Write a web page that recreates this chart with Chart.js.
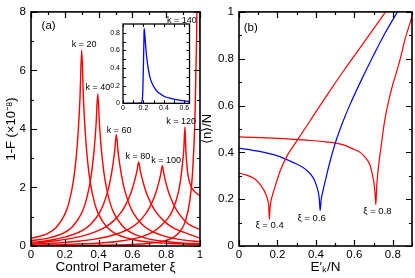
<!DOCTYPE html>
<html><head><meta charset="utf-8">
<script src="https://cdn.jsdelivr.net/npm/chart.js@4.4.1/dist/chart.umd.min.js"></script>
<style>
html,body{margin:0;padding:0;background:#fff;}
#wrap{position:relative;width:415px;height:278px;overflow:hidden;background:#fff;}
canvas{position:absolute;left:0;top:0;}
</style></head><body>
<div id="wrap">
<canvas id="cA" width="415" height="278"></canvas>
<canvas id="cB" width="415" height="278"></canvas>
<canvas id="cI" width="415" height="278"></canvas>
</div>
<script>
// ---------- Panel (a): 1-F (x10^-8) vs control parameter xi ----------
const x20 = [0, 0.1, 0.15, 0.2, 0.225, 0.25, 0.265, 0.28, 0.29, 0.30, 0.31, 0.32, 0.335, 0.35, 0.375, 0.4, 0.45, 0.5, 0.6, 0.7, 0.8, 0.9, 1.0];
const y20 = [0.26, 0.43, 0.64, 1.08, 1.49, 2.20, 2.89, 3.97, 5.07, 6.70, 5.07, 3.97, 2.89, 2.20, 1.49, 1.08, 0.64, 0.42, 0.223, 0.138, 0.094, 0.068, 0.051];
const x40 = [0, 0.095, 0.195, 0.245, 0.295, 0.32, 0.345, 0.36, 0.375, 0.385, 0.395, 0.405, 0.415, 0.43, 0.445, 0.47, 0.495, 0.545, 0.595, 0.695, 0.795, 0.895, 1.0];
const y40 = [0.18, 0.26, 0.447, 0.66, 1.07, 1.43, 2.03, 2.57, 3.38, 4.15, 5.2, 4.15, 3.38, 2.57, 2.03, 1.43, 1.07, 0.66, 0.447, 0.244, 0.153, 0.105, 0.076];
const x60 = [0, 0.105, 0.205, 0.305, 0.355, 0.405, 0.43, 0.455, 0.47, 0.485, 0.495, 0.505, 0.515, 0.525, 0.54, 0.555, 0.58, 0.605, 0.655, 0.705, 0.805, 0.905, 1.0];
const y60 = [0.12, 0.19, 0.31, 0.534, 0.75, 1.13, 1.44, 1.89, 2.28, 2.79, 3.24, 3.8, 3.24, 2.79, 2.28, 1.89, 1.44, 1.13, 0.75, 0.534, 0.31, 0.202, 0.145];
const x80 = [0, 0.137, 0.237, 0.337, 0.437, 0.487, 0.537, 0.562, 0.587, 0.602, 0.617, 0.627, 0.637, 0.647, 0.657, 0.672, 0.687, 0.712, 0.737, 0.787, 0.837, 0.937, 1.0];
const y80 = [0.09, 0.17, 0.26, 0.40, 0.64, 0.85, 1.18, 1.43, 1.75, 2.01, 2.32, 2.57, 2.87, 2.57, 2.32, 2.01, 1.75, 1.43, 1.18, 0.85, 0.64, 0.40, 0.27];
const x100 = [0, 0.177, 0.277, 0.377, 0.477, 0.577, 0.627, 0.677, 0.702, 0.727, 0.742, 0.757, 0.767, 0.777, 0.787, 0.797, 0.812, 0.827, 0.852, 0.877, 0.927, 0.977, 1.0];
const y100 = [0.06, 0.11, 0.16, 0.235, 0.36, 0.58, 0.77, 1.09, 1.32, 1.64, 1.88, 2.19, 2.44, 2.74, 2.44, 2.19, 1.88, 1.64, 1.32, 1.09, 0.77, 0.62, 0.56];
const x120 = [0, 0.211, 0.411, 0.511, 0.611, 0.711, 0.761, 0.811, 0.836, 0.861, 0.876, 0.886, 0.896, 0.904, 0.911, 0.916, 0.921, 0.931, 0.946, 0.961, 0.98, 1.0];
const y120 = [0.03, 0.055, 0.105, 0.155, 0.25, 0.45, 0.65, 0.95, 1.2, 1.6, 1.95, 2.3, 2.8, 3.3, 4.07, 3.3, 2.85, 2.35, 2.05, 1.9, 1.8, 1.72];
const x140 = [0, 0.49, 0.69, 0.79, 0.84, 0.89, 0.915, 0.94, 0.955, 0.97, 0.98, 0.985, 0.99, 1.0];
const y140 = [0.009, 0.032, 0.083, 0.173, 0.286, 0.56, 0.875, 1.56, 2.43, 4.32, 7.14, 9.7, 14, 7.14];

// inset of panel (a)
const insetX = [0, 0.1, 0.17, 0.18, 0.19, 0.195, 0.2, 0.205, 0.207, 0.215, 0.225, 0.234, 0.25, 0.267, 0.3, 0.33, 0.367, 0.4, 0.467, 0.55, 0.65];
const insetY = [0, 0, 0.002, 0.01, 0.05, 0.2, 0.45, 0.75, 0.85, 0.75, 0.6, 0.5, 0.37, 0.28, 0.19, 0.14, 0.105, 0.08, 0.055, 0.035, 0.02];

// ---------- Panel (b): <n>/N vs E'_k/N ----------
const bx04 = [0, 0.04, 0.075, 0.1, 0.127, 0.14, 0.15, 0.155, 0.158, 0.161, 0.165, 0.175, 0.19, 0.214, 0.25, 0.30, 0.37, 0.45, 0.55, 0.65, 0.762];
const by04 = [0.311, 0.303, 0.29, 0.273, 0.242, 0.22, 0.195, 0.168, 0.114, 0.155, 0.185, 0.22, 0.26, 0.32, 0.385, 0.448, 0.535, 0.635, 0.755, 0.87, 1.0];
const bx06 = [0, 0.1, 0.2, 0.26, 0.3, 0.35, 0.387, 0.40, 0.413, 0.418, 0.422, 0.428, 0.438, 0.455, 0.473, 0.49, 0.509, 0.54, 0.578, 0.64, 0.70, 0.76, 0.824];
const by06 = [0.418, 0.405, 0.385, 0.365, 0.35, 0.325, 0.29, 0.265, 0.228, 0.20, 0.152, 0.20, 0.24, 0.30, 0.36, 0.41, 0.46, 0.53, 0.605, 0.715, 0.815, 0.91, 1.0];
const bx08 = [0, 0.2, 0.35, 0.45, 0.543, 0.6, 0.63, 0.66, 0.682, 0.695, 0.703, 0.708, 0.712, 0.716, 0.722, 0.73, 0.74, 0.748, 0.76, 0.78, 0.80, 0.821, 0.845, 0.864, 0.885, 0.907];
const by08 = [0.466, 0.46, 0.452, 0.445, 0.432, 0.412, 0.40, 0.375, 0.345, 0.30, 0.263, 0.22, 0.177, 0.25, 0.31, 0.37, 0.43, 0.48, 0.545, 0.625, 0.69, 0.747, 0.82, 0.885, 0.94, 1.0];

// tick labels
const ticksAX = [0, 0.2, 0.4, 0.6, 0.8, 1];
const ticksAY = [0, 2, 4, 6, 8];
const ticksBX = [0, 0.2, 0.4, 0.6, 0.8];
const ticksBY = [0, 0.2, 0.4, 0.6, 0.8, 1];
const ticksIX = [0, 0.2, 0.4, 0.6];
const ticksIY = [0, 0.2, 0.4, 0.6, 0.8];

// annotation texts
const notesA = [
  {t: 'k = 20', x: 0.314, y: 6.87},
  {t: 'k = 40', x: 0.396, y: 5.43},
  {t: 'k = 60', x: 0.521, y: 3.93},
  {t: 'k = 80', x: 0.633, y: 3.07},
  {t: 'k = 100', x: 0.799, y: 2.91},
  {t: 'k = 120', x: 0.888, y: 4.24},
  {t: 'k = 140', x: 0.893, y: 7.72}
];
const notesB = [
  {t: 'ξ = 0.4', x: 0.159, y: 0.09},
  {t: 'ξ = 0.6', x: 0.378, y: 0.119},
  {t: 'ξ = 0.8', x: 0.72, y: 0.148}
];

const RED = '#ff0000', BLUE = '#0000ff';
Chart.defaults.font.family = "'Liberation Sans', Arial, Helvetica, sans-serif";
Chart.defaults.color = '#000';

const pts = (xs, ys) => xs.map((v, i) => ({x: v, y: ys[i]}));
const ds = (xs, ys, c, w) => ({data: pts(xs, ys), borderColor: c, borderWidth: w, pointRadius: 0,
  fill: false, cubicInterpolationMode: 'monotone'});
const range = (a, b, s) => { const r = []; for (let v = a; v <= b + 1e-9; v += s) r.push(+v.toFixed(4)); return r; };

const framePlugin = {
  id: 'frame',
  afterDatasetsDraw(chart, args, o) {
    const {ctx, chartArea: a} = chart;
    const sx = chart.scales.x, sy = chart.scales.y;
    ctx.save();
    ctx.strokeStyle = '#000';
    ctx.lineWidth = o.tw;
    ctx.beginPath();
    const xt = (vals, len) => vals.forEach(v => {
      const p = Math.round(sx.getPixelForValue(v)) + 0.5;
      ctx.moveTo(p, a.bottom); ctx.lineTo(p, a.bottom - len);
      ctx.moveTo(p, a.top); ctx.lineTo(p, a.top + len);
    });
    const yt = (vals, len) => vals.forEach(v => {
      const p = Math.round(sy.getPixelForValue(v)) + 0.5;
      ctx.moveTo(a.left, p); ctx.lineTo(a.left + len, p);
      ctx.moveTo(a.right, p); ctx.lineTo(a.right - len, p);
    });
    xt(o.xMaj, o.maj); xt(o.xMin, o.min);
    yt(o.yMaj, o.maj); yt(o.yMin, o.min);
    ctx.stroke();
    ctx.lineWidth = o.fw;
    ctx.strokeRect(a.left, a.top, a.right - a.left, a.bottom - a.top);
    ctx.restore();
  }
};
const notesPlugin = {
  id: 'notes',
  afterDatasetsDraw(chart, args, o) {
    const {ctx} = chart;
    const sx = chart.scales.x, sy = chart.scales.y;
    ctx.save();
    ctx.fillStyle = '#000';
    ctx.textAlign = 'center';
    ctx.textBaseline = 'middle';
    (o.items || []).forEach(it => {
      ctx.font = (it.s || o.size) + "px 'Liberation Sans', Arial, sans-serif";
      ctx.fillText(it.t, sx.getPixelForValue(it.x), sy.getPixelForValue(it.y));
    });
    ctx.restore();
  }
};

function axis(min, max, tv, fit, fontSize, pad, title, titleFont, titlePad) {
  return {
    type: 'linear', min, max,
    grid: {display: false, drawTicks: false},
    border: {display: false},
    afterBuildTicks: s => { s.ticks = tv.map(v => ({value: v})); },
    afterFit: s => { if (s.isHorizontal()) s.height = fit; else s.width = fit; },
    ticks: {autoSkip: false, maxRotation: 0, padding: pad, font: {size: fontSize}, color: '#000',
      callback: v => String(v)},
    title: {display: !!title, text: title, color: '#000', font: {size: titleFont}, padding: titlePad}
  };
}

const common = {
  responsive: false, animation: false, devicePixelRatio: 1,
  events: [],
  plugins: {legend: {display: false}, tooltip: {enabled: false}},
};

// Panel (a)
new Chart(document.getElementById('cA'), {
  type: 'line',
  data: {datasets: [
    ds(x20, y20, RED, 1.4), ds(x40, y40, RED, 1.4), ds(x60, y60, RED, 1.4), ds(x80, y80, RED, 1.4),
    ds(x100, y100, RED, 1.4), ds(x120, y120, RED, 1.4), ds(x140, y140, RED, 1.4)
  ]},
  options: Object.assign({}, common, {
    layout: {padding: {left: 0, top: 5, right: 215, bottom: 0}},
    scales: {
      x: axis(0, 1, ticksAX, 32, 11.5, 2, 'Control Parameter ξ', 13.5, {top: 0, bottom: 3}),
      y: axis(0, 8, ticksAY, 31, 11.5, 5, '1-F (×10⁻⁸)', 13, {top: 4, bottom: 0})
    },
    plugins: Object.assign({}, common.plugins, {
      frame: {xMaj: ticksAX, xMin: range(0.1, 0.9, 0.2), yMaj: ticksAY, yMin: [1, 3, 5, 7], maj: 6, min: 3, tw: 1.2, fw: 1.6},
      notes: {size: 9, items: notesA.concat([{t: '(a)', x: 0.104, y: 7.52, s: 11.5}])}
    })
  }),
  plugins: [framePlugin, notesPlugin]
});

// Panel (b)
new Chart(document.getElementById('cB'), {
  type: 'line',
  data: {datasets: [ds(bx04, by04, RED, 1.2), ds(bx06, by06, BLUE, 1.2), ds(bx08, by08, RED, 1.2)]},
  options: Object.assign({}, common, {
    layout: {padding: {left: 200, top: 5, right: 3, bottom: 0}},
    scales: {
      x: axis(0, 0.9, ticksBX, 32, 11.5, 2, 'E′ₖ/N', 13.5, {top: 0, bottom: 3}),
      y: axis(0, 1, ticksBY, 39, 11.5, 5, '⟨n⟩/N', 13, {top: 0, bottom: 0})
    },
    plugins: Object.assign({}, common.plugins, {
      frame: {xMaj: ticksBX, xMin: range(0.1, 0.9, 0.2), yMaj: ticksBY, yMin: range(0.1, 0.9, 0.2), maj: 6, min: 3, tw: 1.2, fw: 1.6},
      notes: {size: 9.5, items: notesB.concat([{t: '(b)', x: 0.061, y: 0.93, s: 11.5}])}
    })
  }),
  plugins: [framePlugin, notesPlugin]
});

// Inset
new Chart(document.getElementById('cI'), {
  type: 'line',
  data: {datasets: [ds(insetX, insetY, BLUE, 1.3)]},
  options: Object.assign({}, common, {
    layout: {padding: {left: 100, top: 24, right: 225.5, bottom: 164.7}},
    scales: {
      x: axis(0, 0.65, ticksIX, 10, 7, 1, '', 7, 0),
      y: axis(0, 0.9, ticksIY, 23, 7, 3, '', 7, 0)
    },
    plugins: Object.assign({}, common.plugins, {
      frame: {xMaj: ticksIX, xMin: [0.1, 0.3, 0.5], yMaj: ticksIY, yMin: [0.1, 0.3, 0.5, 0.7], maj: 3, min: 3, tw: 1, fw: 1.3},
      notes: {items: []}
    })
  }),
  plugins: [framePlugin, notesPlugin]
});
</script>
</body></html>
